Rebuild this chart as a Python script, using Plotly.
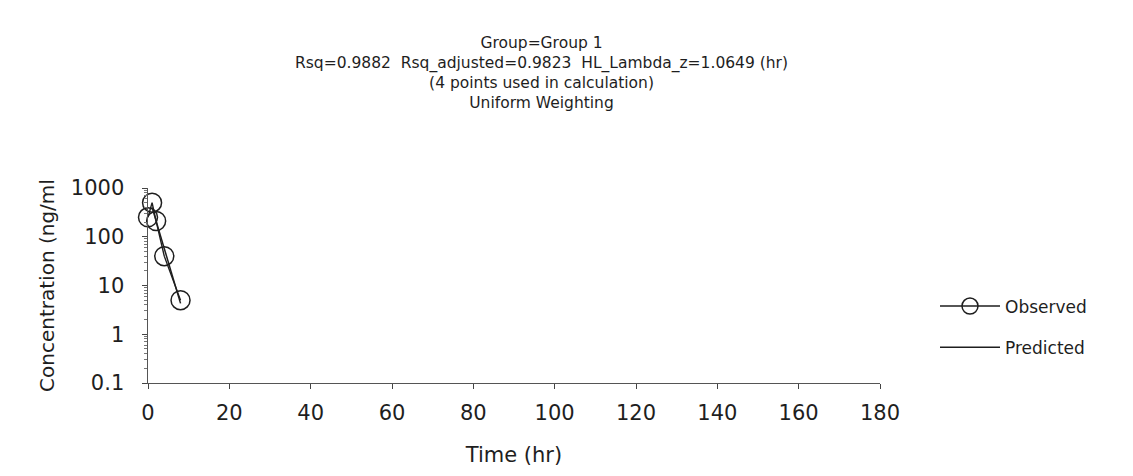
import plotly.graph_objects as go

# Observed data
obs_time = [0, 1, 2, 4, 8]
obs_conc = [250, 500, 210, 40, 5]

# Predicted (terminal phase fit, 4 points)
pred_time = [1, 8]
pred_conc = [400, 4.3]

x_ticks = [0, 20, 40, 60, 80, 100, 120, 140, 160, 180]
y_ticks = [0.1, 1, 10, 100, 1000]
y_tick_text = ["0.1", "1", "10", "100", "1000"]
y_minor = [m * 10.0 ** e for e in range(-1, 3) for m in range(2, 10)]

title_lines = [
    "Group=Group 1",
    "Rsq=0.9882  Rsq_adjusted=0.9823  HL_Lambda_z=1.0649 (hr)",
    "(4 points used in calculation)",
    "Uniform Weighting",
]

FONT = "DejaVu Sans, Liberation Sans, Arial, sans-serif"
INK = "#1e1e1e"

# page offset of the plot div (default body margin)
OFF = 8
W, H = 1133 - OFF, 476 - OFF
L, T = 148 - OFF, 188 - OFF
R, B = W - (880 - OFF), H - (383 - OFF)
PW, PH = W - L - R, H - T - B

fig = go.Figure()
fig.add_trace(go.Scatter(
    x=obs_time, y=obs_conc, mode="lines+markers", name="Observed",
    line=dict(color=INK, width=1.4),
    marker=dict(symbol="circle-open", size=19, color=INK, line=dict(width=1.5)),
    cliponaxis=False, legendgroup="a",
))
fig.add_trace(go.Scatter(
    x=pred_time, y=pred_conc, mode="lines", name="Predicted",
    line=dict(color=INK, width=1.5),
    cliponaxis=False, legendgroup="b",
))

fig.update_layout(
    width=W, height=H,
    margin=dict(l=L, r=R, t=T, b=B, autoexpand=False),
    paper_bgcolor="white", plot_bgcolor="white",
    font=dict(family=FONT, color=INK),
    showlegend=True,
    legend=dict(
        x=(935 - OFF - L) / PW, xanchor="left",
        y=(H - B - (327 - OFF)) / PH, yanchor="middle",
        font=dict(size=17, family=FONT, color=INK),
        tracegroupgap=16, itemwidth=60,
        bgcolor="rgba(0,0,0,0)",
    ),
    xaxis=dict(
        range=[0, 180], tickvals=x_ticks, showgrid=False, zeroline=False,
        automargin=False,
        showline=True, linecolor="#555", linewidth=1.4,
        ticks="outside", ticklen=5, tickcolor="#444", tickwidth=1.2,
        ticklabelstandoff=6,
        tickfont=dict(size=21, family=FONT, color=INK),
        title=dict(text="Time (hr)", font=dict(size=21, family=FONT, color=INK), standoff=22),
    ),
    yaxis=dict(
        type="log", range=[-1, 3], tickvals=y_ticks,
        ticktext=[t + "\u00a0\u00a0" for t in y_tick_text],
        showgrid=False, zeroline=False, automargin=False,
        showline=True, linecolor="#555", linewidth=1.4,
        ticks="outside", ticklen=5, tickcolor="#444", tickwidth=1.2,
        minor=dict(tickvals=y_minor, ticks="outside", ticklen=3, tickcolor="#777",
                   tickwidth=1, showgrid=False),
        tickfont=dict(size=21, family=FONT, color=INK),
        title=dict(text="Concentration (ng/ml", font=dict(size=20, family=FONT, color=INK), standoff=10),
    ),
)

fig.add_annotation(
    text="<br>".join(title_lines), xref="paper", yref="paper",
    x=(541 - OFF - L) / PW, y=1.0, yshift=T - (73 - OFF), xanchor="center", yanchor="middle",
    align="center", showarrow=False, font=dict(size=15.5, family=FONT, color=INK),
)

fig.write_html("out.html")
